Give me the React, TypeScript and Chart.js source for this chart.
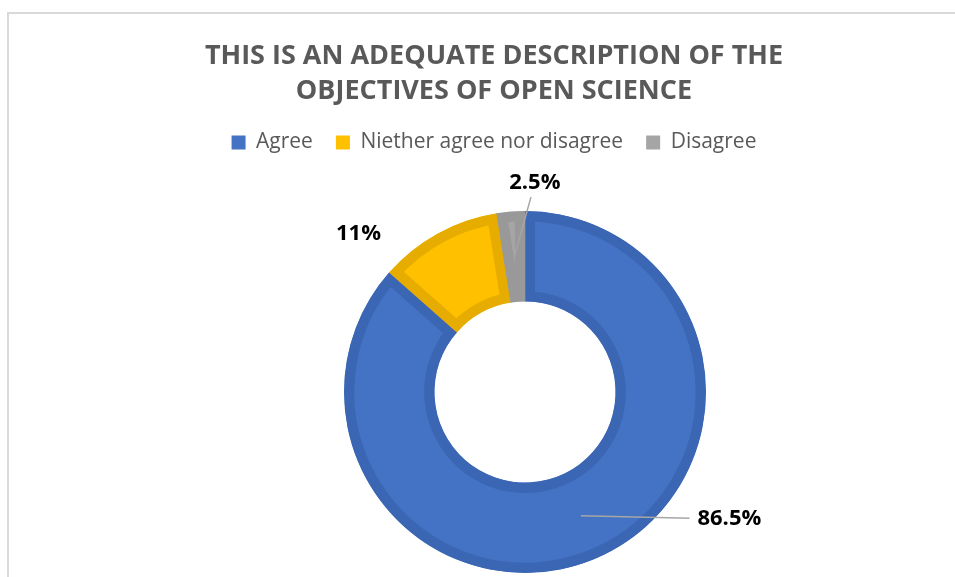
import React, { useEffect, useRef } from 'react';
import { Chart, registerables } from 'chart.js';

Chart.register(...registerables);

// ---- data ----
const categories = ['Agree', 'Niether agree nor disagree', 'Disagree'];
const shares = [86.5, 11, 2.5];
const valueLabels = ['86.5%', '11%', '2.5%'];
const titleLines = ['THIS IS AN ADEQUATE DESCRIPTION OF THE', 'OBJECTIVES OF OPEN SCIENCE'];

// ---- styling ----
const fillColors = ['#4472C4', '#FFC000', '#A5A5A5'];
const edgeColors = ['#3B66B3', '#E6AD00', '#999999'];
// label placement, relative to the ring: angle (deg, clockwise from top) and distance in outer radii
const labelAngles = [121.9, 313.6, 2.7];
const labelDistances = [1.33, 1.27, 1.155];
const labelLeaders = [true, false, true];
const ringShiftX = 31;

const outsideLabels = {
  id: 'outsideLabels',
  afterDatasetsUpdate(chart: any) {
    const meta = chart.getDatasetMeta(0);
    meta.data.forEach((arc: any) => {
      arc.x += ringShiftX;
    });
  },
  afterDatasetsDraw(chart: any) {
    const ctx = chart.ctx as CanvasRenderingContext2D;
    const meta = chart.getDatasetMeta(0);
    const fontSize = 22;
    meta.data.forEach((arc: any, i: number) => {
      const { x, y, startAngle, endAngle, innerRadius, outerRadius } = arc;
      const mid = (startAngle + endAngle) / 2;
      const midR = (innerRadius + outerRadius) / 2;
      const sx = x + Math.cos(mid) * midR;
      const sy = y + Math.sin(mid) * midR;
      const a = ((labelAngles[i] - 90) * Math.PI) / 180;
      const lx = x + Math.cos(a) * outerRadius * labelDistances[i];
      const ly = y + Math.sin(a) * outerRadius * labelDistances[i];
      ctx.save();
      ctx.font = `bold ${fontSize}px "Open Sans"`;
      const text = valueLabels[i];
      const w = ctx.measureText(text).width;
      if (labelLeaders[i]) {
        const hw = w / 2 + 8;
        const hh = fontSize * 0.36 + 6;
        const dx = sx - lx;
        const dy = sy - ly;
        const t = Math.min(dx !== 0 ? hw / Math.abs(dx) : Infinity, dy !== 0 ? hh / Math.abs(dy) : Infinity);
        const ex = lx + dx * t;
        const ey = ly + dy * t;
        ctx.strokeStyle = '#A6A6A6';
        ctx.lineWidth = 1.5;
        ctx.beginPath();
        ctx.moveTo(sx, sy);
        ctx.lineTo(ex, ey);
        ctx.stroke();
      }
      ctx.fillStyle = '#000000';
      ctx.textAlign = 'center';
      ctx.textBaseline = 'middle';
      ctx.fillText(text, lx, ly);
      ctx.restore();
    });
  },
};

export default function App() {
  const canvasRef = useRef<HTMLCanvasElement | null>(null);

  useEffect(() => {
    if (!canvasRef.current) return;
    const chart = new Chart(canvasRef.current, {
      type: 'doughnut',
      data: {
        labels: categories,
        datasets: [
          {
            data: shares,
            backgroundColor: fillColors,
            borderColor: edgeColors,
            borderWidth: 10,
            borderAlign: 'inner',
          },
        ],
      },
      options: {
        responsive: false,
        animation: false,
        events: [],
        radius: 181,
        cutout: '50%',
        layout: { padding: 0 },
        plugins: {
          title: {
            display: true,
            text: titleLines,
            color: '#595959',
            font: { family: '"Open Sans"', size: 27, weight: 'bold', lineHeight: 35 / 27 },
            padding: { top: 39, bottom: 0 },
          },
          legend: {
            display: true,
            position: 'top',
            labels: {
              color: '#595959',
              font: { family: '"Open Sans"', size: 21 },
              boxWidth: 14,
              boxHeight: 14,
              padding: 23,
              generateLabels: (chart: any) =>
                Chart.overrides.doughnut.plugins.legend.labels
                  .generateLabels(chart)
                  .map((item: any, i: number) => ({
                    ...item,
                    fillStyle: fillColors[i],
                    strokeStyle: fillColors[i],
                    lineWidth: 0,
                  })),
            },
          },
          tooltip: { enabled: false },
        },
      },
      plugins: [outsideLabels],
    });
    return () => chart.destroy();
  }, []);

  return (
    <div style={{ position: 'fixed', left: 0, top: 0, width: 955, height: 577, overflow: 'hidden', background: '#fff' }}>
      <div
        style={{
          position: 'absolute',
          left: 7,
          top: 12,
          width: 1100,
          height: 800,
          border: '2px solid #D9D9D9',
          boxSizing: 'border-box',
        }}
      />
      <canvas
        ref={canvasRef}
        width={988}
        height={621}
        style={{ position: 'absolute', left: 0, top: 0, width: 988, height: 621 }}
      />
    </div>
  );
}
